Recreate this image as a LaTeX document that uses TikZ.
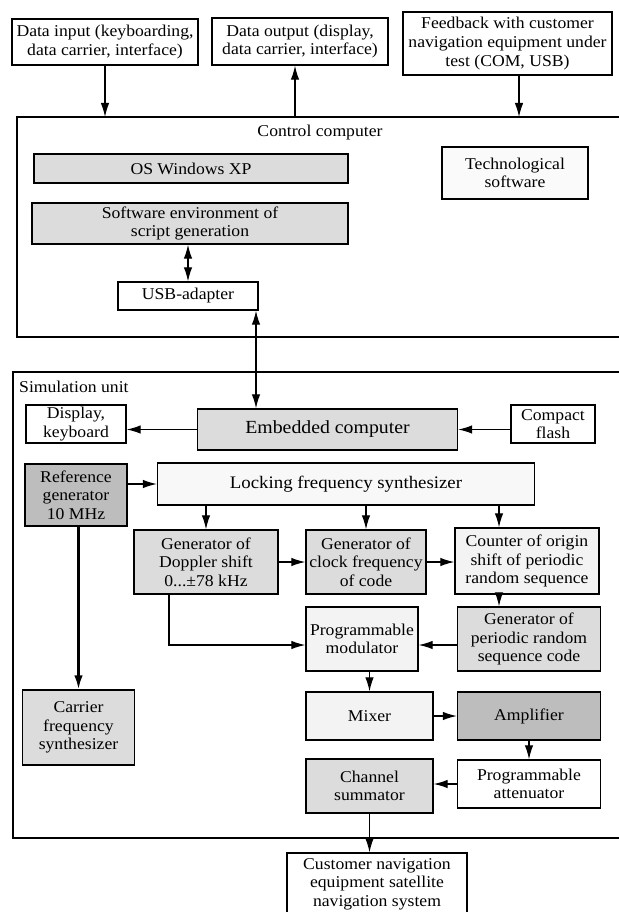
\documentclass[tikz,border=0pt]{standalone}
\usepackage{fontspec}
\setmainfont{Liberation Serif}[FakeStretch=1.07]
\usetikzlibrary{arrows.meta}
\definecolor{boxgray}{HTML}{DCDCDC}
\definecolor{boxdark}{HTML}{BDBDBD}
\definecolor{boxlight}{HTML}{F3F3F3}
\tikzset{
  blk/.style={draw, line width=1.4pt, align=center, inner sep=0pt, font=\fontsize{16.5}{18.6}\selectfont},
  frame/.style={draw, line width=1.4pt, inner sep=0pt},
  arr/.style={line width=1.2pt, -{Latex[length=14pt,width=8.5pt]}},
  arrboth/.style={line width=1.2pt, {Latex[length=14pt,width=8.5pt]}-{Latex[length=14pt,width=8.5pt]}},
}
\begin{document}
\begin{tikzpicture}[x=1pt,y=-1pt]
  \useasboundingbox (0,0) rectangle (618,912);
  % outer frames
  \node[frame, minimum width=640, minimum height=220] (ctrl) at (337,227) {};
  \node[frame, minimum width=640, minimum height=466] (sim) at (333,605) {};
  \node[font=\fontsize{16.5}{18}\selectfont] (ctrllab) at (320,133) {Control computer};
  \node[font=\fontsize{16.5}{18}\selectfont, anchor=west, inner sep=0pt] (simlab) at (19,387) {Simulation unit};
  % top boxes
  \node[blk, minimum width=186, minimum height=46] (in) at (105,42) {Data input (keyboarding,\\data carrier, interface)};
  \node[blk, minimum width=176, minimum height=47] (out) at (300,41.5) {Data output (display,\\data carrier, interface)};
  \node[blk, minimum width=209, minimum height=63] (fb) at (507.5,43.5) {Feedback with customer\\navigation equipment under\\test (COM, USB)};
  % control computer
  \node[blk, fill=boxgray, minimum width=314, minimum height=29] (os) at (191,168.5) {OS Windows XP};
  \node[blk, fill=boxgray, minimum width=316, minimum height=41] (env) at (190,223.5) {Software environment of\\script generation};
  \node[blk, minimum width=140, minimum height=28] (usb) at (188,296) {USB-adapter};
  \node[blk, fill=boxlight!40, minimum width=146, minimum height=52] (tech) at (515,173) {Technological\\software};
  % simulation unit
  \node[blk, minimum width=100, minimum height=38] (disp) at (76,424) {Display,\\keyboard};
  \node[blk, fill=boxgray, minimum width=260, minimum height=41, font=\fontsize{18.5}{20}\selectfont] (emb) at (327.5,429.5) {Embedded computer};
  \node[blk, minimum width=84, minimum height=38] (cf) at (553,424) {Compact\\flash};
  \node[blk, fill=boxdark, minimum width=102, minimum height=62] (ref) at (76,495) {Reference\\generator\\10 MHz};
  \node[blk, fill=boxlight!60, minimum width=377, minimum height=42, font=\fontsize{17.6}{19}\selectfont] (lock) at (346,484) {Locking frequency synthesizer};
  \node[blk, fill=boxgray, minimum width=144, minimum height=64] (dop) at (206,562) {Generator of\\Doppler shift\\0...±78 kHz};
  \node[blk, fill=boxgray, minimum width=120, minimum height=64] (clk) at (366,562) {Generator of\\clock frequency\\of code};
  \node[blk, fill=boxlight, minimum width=144, minimum height=66] (cnt) at (527,561) {Counter of origin\\shift of periodic\\random sequence};
  \node[blk, fill=boxgray, minimum width=143, minimum height=64] (prs) at (529,639) {Generator of\\periodic random\\sequence code};
  \node[blk, fill=boxlight, minimum width=112, minimum height=64] (mod) at (362,639) {Programmable\\modulator};
  \node[blk, fill=boxlight, minimum width=127, minimum height=48] (mix) at (369.5,716) {Mixer};
  \node[blk, fill=boxdark, minimum width=143, minimum height=48] (amp) at (529,716) {Amplifier};
  \node[blk, minimum width=143, minimum height=48] (att) at (529,784) {Programmable\\attenuator};
  \node[blk, fill=boxgray, minimum width=127, minimum height=54] (sum) at (369.5,786) {Channel\\summator};
  \node[blk, fill=boxgray, minimum width=112, minimum height=75] (carr) at (78.5,727.5) {Carrier\\frequency\\synthesizer};
  \node[blk, minimum width=180, minimum height=62] (cust) at (377,884) {Customer navigation\\equipment satellite\\navigation system};
  % helper coordinates
  \coordinate (ctrl-in) at (105,117);
  \coordinate (ctrl-out) at (295,117);
  \coordinate (ctrl-fb) at (519,117);
  \coordinate (usbx) at (256,0);
  \coordinate (cntx) at (499,0);
  \coordinate (dopx) at (169,0);
  \coordinate (mody) at (0,645);
  % connectors
  \draw[arr] (in.south -| ctrl-in) -- (ctrl-in);
  \draw[arr] (ctrl-out) -- (out.south -| ctrl-out);
  \draw[arr] (fb.south -| ctrl-fb) -- (ctrl-fb);
  \draw[arrboth] (env.south -| usb.north) -- (usb.north);
  \draw[arrboth] (usb.south -| usbx) -- (emb.north -| usbx);
  \draw[arr] (emb.west) -- (emb.west -| disp.east);
  \draw[arr] (emb.east -| cf.west) -- (emb.east);
  \draw[arr] (ref.east |- lock.west) -- (lock.west);
  \draw[arr] (lock.south -| dop.north) -- (dop.north);
  \draw[arr] (lock.south -| clk.north) -- (clk.north);
  \draw[arr] (lock.south -| cntx) -- (cnt.north -| cntx);
  \draw[arr] (dop.east) -- (clk.west);
  \draw[arr] (clk.east) -- (clk.east -| cnt.west);
  \draw[arr] (cnt.south -| cntx) -- (prs.north -| cntx);
  \draw[arr] (prs.west |- mody) -- (mod.east |- mody);
  \draw[arr] (dop.south -| dopx) |- (mod.west |- mody);
  \draw[arr] (mod.south -| mix.north) -- (mix.north);
  \draw[arr] (mix.east) -- (amp.west);
  \draw[arr] (amp.south) -- (att.north);
  \draw[arr] (att.west) -- (att.west -| sum.east);
  \draw[arr] (sum.south) -- (cust.north -| sum.south);
  \draw[arr, line width=2.2pt] (ref.south -| carr.north) -- (carr.north);
\end{tikzpicture}
\end{document}
